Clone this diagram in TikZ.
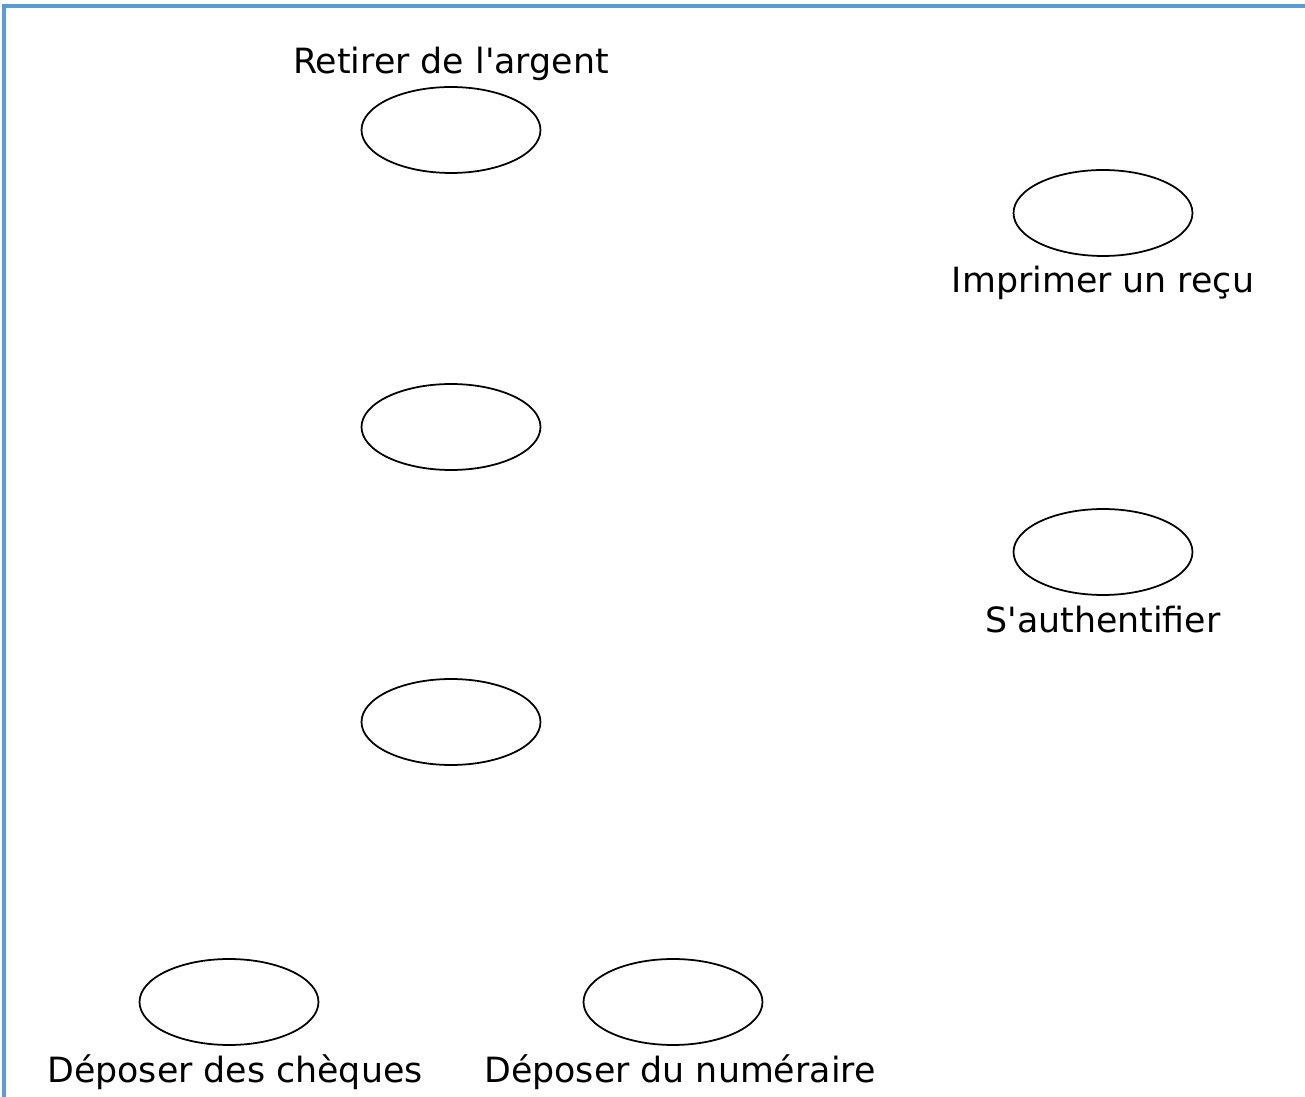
\documentclass[tikz,border=0pt]{standalone}
\usepackage{fontspec}
\setmainfont{DejaVu Sans}
\usepackage{tikz}
\usetikzlibrary{positioning, shapes.geometric}
\definecolor{frameblue}{HTML}{5B9BD5}

\begin{document}
\begin{tikzpicture}[
		x=0.02cm,
		y=-0.02cm,
		font=\fontsize{19.8}{23}\selectfont,
		usecase/.style={draw, ellipse, line width=1pt, inner sep=0pt, minimum width=3.58cm, minimum height=1.72cm},
		uclabel/.style={align=center, inner sep=0pt}
		]
		\useasboundingbox (0,0) rectangle (1305,1097);
		
		% Frame
		\coordinate (topleft) at (4,6);
		\coordinate (topright) at (1305,6);
		\coordinate (bottomleft) at (4,1097);
		\draw[frameblue, line width=2pt] (topright) -- (topleft) -- (bottomleft);
		
		% Use cases
		\node[usecase] (retirer) at (451,130) {};
		\node[usecase] (imprimer) at (1103,213) {};
		\node[usecase] (uc2) at (451,427) {};
		\node[usecase] (auth) at (1103,552) {};
		\node[usecase] (uc3) at (451,722) {};
		\node[usecase] (cheques) at (229,1002) {};
		\node[usecase] (numeraire) at (673,1002) {};
		
		% Labels
		\node[uclabel] at ([yshift=0.44cm]retirer.north) {Retirer de l\textquotesingle argent};
		\node[uclabel] at ([yshift=-0.53cm]imprimer.south) {Imprimer un reçu};
		\node[uclabel] at ([yshift=-0.48cm]auth.south) {S\textquotesingle authentifier};
		\node[uclabel] at ([yshift=-0.52cm,xshift=0.12cm]cheques.south) {Déposer des chèques};
		\node[uclabel] at ([yshift=-0.52cm,xshift=0.14cm]numeraire.south) {Déposer du numéraire};
	\end{tikzpicture}
\end{document}
